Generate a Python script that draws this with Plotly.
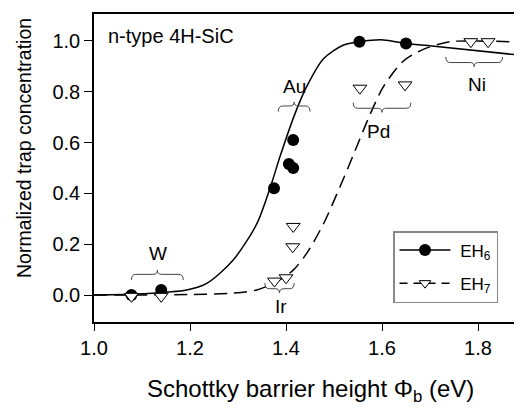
import plotly.graph_objects as go

# Measured data points
eh6_x = [1.078, 1.14, 1.375, 1.406, 1.415, 1.415, 1.553, 1.65]
eh6_y = [0.0, 0.02, 0.42, 0.516, 0.50, 0.61, 0.997, 0.99]
eh7_x = [1.078, 1.14, 1.376, 1.40, 1.415, 1.414, 1.554, 1.648, 1.785, 1.821]
eh7_y = [-0.005, -0.005, 0.055, 0.068, 0.27, 0.19, 0.814, 0.827, 0.997, 0.997]

# Fit curves
fit6_x = [1.0, 1.1, 1.193, 1.235, 1.29, 1.339, 1.37, 1.3875, 1.419, 1.443, 1.478, 1.52, 1.553, 1.603, 1.65, 1.714, 1.908]
fit6_y = [0.0, 0.005, 0.02, 0.046, 0.138, 0.28, 0.44, 0.545, 0.715, 0.82, 0.93, 0.984, 0.997, 1.004, 0.99, 0.978, 0.94]
fit7_x = [1.0, 1.2, 1.283, 1.339, 1.38, 1.415, 1.443, 1.478, 1.5125, 1.54, 1.575, 1.603, 1.644, 1.686, 1.742, 1.785, 1.908]
fit7_y = [0.0, 0.002, 0.007, 0.02, 0.052, 0.098, 0.164, 0.28, 0.426, 0.55, 0.71, 0.82, 0.92, 0.967, 0.997, 1.0, 0.995]

# Metal brace annotations
metals = ["W", "Ir", "Au", "Pd", "Ni"]
brace_x0 = [1.078, 1.356, 1.384, 1.540, 1.733]
brace_x1 = [1.186, 1.417, 1.450, 1.660, 1.851]
brace_y = [0.0815, 0.025, 0.744, 0.735, 0.915]
brace_dir = [1, -1, 1, -1, -1]  # +1: cusp up (label above), -1: cusp down (label below)
label_x = [1.134, 1.389, 1.417, 1.592, 1.797]
label_y = [0.164, -0.046, 0.82, 0.643, 0.827]

x_ticks = [1.0, 1.2, 1.4, 1.6, 1.8]
y_ticks = [0.0, 0.2, 0.4, 0.6, 0.8, 1.0]

FONT = "Liberation Sans, Arial, sans-serif"

# Page has an 8px body margin; plot area in window pixels: left 94, top 14, bottom 322
OFF = 8
W, H = 522, 408
L, T, B = 94 - OFF, 14 - OFF, 322 - OFF
PW, PH = W - L, B - T


def px(wx):
    return (wx - OFF - L) / PW


def py(wy):
    return (B - (wy - OFF)) / PH


fig = go.Figure()
fig.add_trace(go.Scatter(x=fit6_x, y=fit6_y, mode="lines", line=dict(color="black", width=1.5, shape="spline", smoothing=0.8), showlegend=False))
fig.add_trace(go.Scatter(x=fit7_x, y=fit7_y, mode="lines", line=dict(color="black", width=1.5, dash="13px,7px", shape="spline", smoothing=0.8), showlegend=False))
fig.add_trace(go.Scatter(x=eh6_x, y=eh6_y, mode="markers", marker=dict(symbol="circle", size=12, color="black"), showlegend=False))
fig.add_trace(go.Scatter(x=eh7_x, y=eh7_y, mode="markers", marker=dict(symbol="triangle-down", size=12, color="white", line=dict(color="black", width=1)), showlegend=False))
# legend entries
fig.add_trace(go.Scatter(x=[None], y=[None], mode="lines+markers", name=" EH<sub>6</sub>", legendgroup="g6",
                         line=dict(color="black", width=1.5), marker=dict(symbol="circle", size=12, color="black")))
fig.add_trace(go.Scatter(x=[None], y=[None], mode="lines+markers", name=" EH<sub>7</sub>", legendgroup="g7",
                         line=dict(color="black", width=1.5, dash="8px,6px"), marker=dict(symbol="triangle-down", size=10, color="white", line=dict(color="black", width=1))))

# braces
dxc = 0.009
for x0, x1, yb, d in zip(brace_x0, brace_x1, brace_y, brace_dir):
    ye = yb - d * 0.022
    yc = yb + d * 0.016
    xm = (x0 + x1) / 2
    path = (f"M {x0},{ye} Q {x0},{yb} {x0+dxc},{yb} L {xm-dxc},{yb} Q {xm},{yb} {xm},{yc} "
            f"Q {xm},{yb} {xm+dxc},{yb} L {x1-dxc},{yb} Q {x1},{yb} {x1},{ye}")
    fig.add_shape(type="path", path=path, xref="x", yref="y", line=dict(color="#444", width=1))

for t, lx, ly in zip(metals, label_x, label_y):
    fig.add_annotation(x=lx, y=ly, text=t, showarrow=False, font=dict(size=19, color="black", family=FONT))

fig.add_annotation(xref="paper", yref="paper", x=px(106), y=py(36), xanchor="left", yanchor="middle",
                   text="n-type 4H-SiC", showarrow=False, font=dict(size=20, color="black", family=FONT))

fig.add_annotation(xref="paper", yref="paper", x=px(24), y=py(148), xanchor="center", yanchor="middle",
                   text="Normalized trap concentration", textangle=-90, showarrow=False,
                   font=dict(size=19.5, color="black", family=FONT))

fig.add_annotation(xref="paper", yref="paper", x=px(310), y=py(390), xanchor="center", yanchor="middle",
                   text="Schottky barrier height Φ<sub>b</sub> (eV)", showarrow=False,
                   font=dict(size=24, color="black", family=FONT))

fig.update_layout(
    width=W, height=H,
    margin=dict(l=L, r=0, t=T, b=H - B, autoexpand=False),
    paper_bgcolor="white", plot_bgcolor="white",
    font=dict(family=FONT, color="black"),
    legend=dict(x=px(393), y=py(231), xanchor="left", yanchor="top", bgcolor="white",
                bordercolor="#888", borderwidth=1.5, font=dict(size=17), itemwidth=51,
                tracegroupgap=8),
    xaxis=dict(range=[1.0, 1.0 + PW / 480], tickvals=x_ticks, ticktext=[f"{v:.1f}" for v in x_ticks],
               showgrid=False, zeroline=False, showline=True, linecolor="black", linewidth=1.5,
               mirror=True, ticks="outside", ticklen=7, tickwidth=1.2, tickcolor="black",
               tickfont=dict(size=20), automargin=False),
    yaxis=dict(range=[-0.106, 1.106], tickvals=y_ticks, ticktext=[f"{v:.1f}" for v in y_ticks],
               showgrid=False, zeroline=False, showline=True, linecolor="black", linewidth=1.5,
               ticks="outside", ticklen=8, tickwidth=1.2, tickcolor="black",
               tickfont=dict(size=20), automargin=False),
)

fig.write_html("out.html")
